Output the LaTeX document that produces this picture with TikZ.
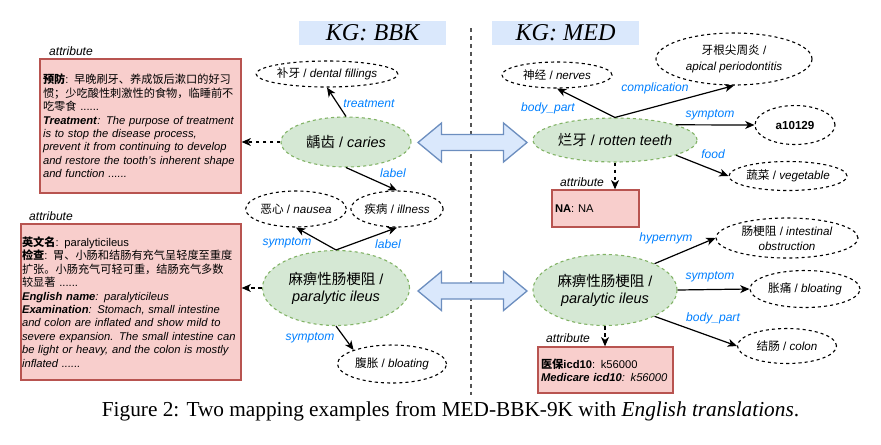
\documentclass[tikz,border=0pt]{standalone}
\usepackage{fontspec}
\usepackage{xcolor}
\usepackage{tikz}
\usetikzlibrary{shapes.geometric,arrows.meta}
\setmainfont{Liberation Sans}
\newfontfamily\cjkfont{Noto Sans CJK SC}
\newfontfamily\capfont{Liberation Serif}
\newcommand\zh[1]{{\cjkfont #1}}
\definecolor{keyfill}{HTML}{D5E8D4}
\definecolor{keyline}{HTML}{82B366}
\definecolor{attrfill}{HTML}{F8CECC}
\definecolor{attrline}{HTML}{B85450}
\definecolor{mapfill}{HTML}{DAE8FC}
\definecolor{mapline}{HTML}{6C8EBF}
\definecolor{relblue}{HTML}{007FFF}
\definecolor{sepgray}{HTML}{555555}

\begin{document}
\begin{tikzpicture}[x=0.016cm, y=-0.016cm,
    ent/.style 2 args={ellipse, draw, dash pattern=on 1.4pt off 1.4pt, line width=0.5pt,
      minimum width=#1*0.016cm, minimum height=#2*0.016cm, inner sep=0pt, align=center,
      font=\fontsize{5.3}{7}\selectfont},
    key/.style 2 args={ent={#1}{#2}, draw=keyline, fill=keyfill, font=\fontsize{6.6}{7.7}\selectfont},
    attr/.style n args={3}{rectangle, draw=attrline, fill=attrfill, line width=0.6pt,
      text width=#1, minimum height=#2, inner xsep=#3, inner ysep=0pt, align=left,
      font=\fontsize{5.1}{6.1}\selectfont},
    title/.style={fill=mapfill, minimum width=147*0.016cm, minimum height=24*0.016cm, inner sep=0pt,
      font=\capfont\itshape\fontsize{11}{12}\selectfont},
    bimap/.style={fill=mapfill, draw=mapline, line width=0.6pt},
    rel/.style={-{Stealth[length=4.2pt, width=3.6pt, inset=1.2pt]}, line width=0.55pt},
    attrrel/.style={rel, dash pattern=on 1.6pt off 1.6pt},
    lbl/.style={font=\fontsize{5.5}{6}\selectfont\itshape, text=relblue, inner sep=0pt},
    note/.style={font=\fontsize{5.5}{6}\selectfont\itshape, inner sep=0pt}]
  \useasboundingbox (0,0) rectangle (881,444);

  \node[title] (bbk) at (372.5,33) {KG: BBK};
  \node[title] (med) at (565.5,33) {KG: MED};
  \draw[sepgray, line width=0.6pt, dash pattern=on 1.8pt off 1.8pt] (471,28) -- (471,395);
  \foreach \y in {142.5,291}
    \draw[bimap, shift={(472.5,\y)}] (-54.5,0) -- (-31,-19.5) -- (-31,-8) -- (31,-8) -- (31,-19.5)
      -- (54.5,0) -- (31,19.5) -- (31,8) -- (-31,8) -- (-31,19.5) -- cycle;

  \node[ent={140}{26}] (fill) at (327,74) {\zh{补牙} / \textit{dental fillings}};
  \node[key={130}{50}] (caries) at (346,142) {\zh{龋齿} / \textit{caries}};
  \node[ent={98}{36}] (nausea) at (296,209) {\zh{恶心} / \textit{nausea}};
  \node[ent={91}{36}] (illness) at (397,209) {\zh{疾病} / \textit{illness}};
  \node[key={147}{75}] (parb) at (336,288) {\zh{麻痹性肠梗阻} /\\\textit{paralytic ileus}};
  \node[ent={109}{38}] (bloatb) at (392,364) {\zh{腹胀} / \textit{bloating}};

  \node[key={164}{44}] (rotten) at (615,140) {\zh{烂牙} / \textit{rotten teeth}};
  \node[ent={110}{26}] (nerves) at (557,75) {\zh{神经} / \textit{nerves}};
  \node[ent={156}{52}] (apical) at (734,59) {\zh{牙根尖周炎} /\\\textit{apical periodontitis}};
  \node[ent={80}{39}] (a10129) at (795,125) {\textbf{a10129}};
  \node[ent={116}{29}] (veg) at (788,176) {\zh{蔬菜} / \textit{vegetable}};
  \node[key={144}{71}] (parm) at (605,290) {\zh{麻痹性肠梗阻} /\\\textit{paralytic ileus}};
  \node[ent={142}{40}] (obstr) at (787,238) {\zh{肠梗阻} / \textit{intestinal}\\\textit{obstruction}};
  \node[ent={110}{37}] (pain) at (805,289) {\zh{胀痛} / \textit{bloating}};
  \node[ent={99}{35}] (colon) at (787,346) {\zh{结肠} / \textit{colon}};

  \node[attr={3.12cm}{2.144cm}{0.048cm}] (box1) at (140.5,126) {%
    \textbf{\zh{预防}}: \zh{早晚刷牙、养成饭后漱口的好习}\\
    \zh{惯；少吃酸性刺激性的食物，临睡前不}\\
    \zh{吃零食} ......\\
    \textbf{\textit{Treatment}}\textit{: The purpose of treatment}\\
    \textit{is to stop the disease process,}\\
    \textit{prevent it from continuing to develop}\\
    \textit{and restore the tooth's inherent shape}\\
    \textit{and function ......}};
  \node[attr={3.488cm}{2.496cm}{0.016cm}] (box2) at (131,302) {%
    \textbf{\zh{英文名}}: paralyticileus\\
    \textbf{\zh{检查}}: \zh{胃、小肠和结肠有充气呈轻度至重度}\\
    \zh{扩张。小肠充气可轻可重，结肠充气多数}\\
    \zh{较显著} ......\\
    \textbf{\textit{English name}}\textit{: paralyticileus}\\
    \textbf{\textit{Examination}}\textit{: Stomach, small intestine}\\
    \textit{and colon are inflated and show mild to}\\
    \textit{severe expansion. The small intestine can}\\
    \textit{be light or heavy, and the colon is mostly}\\
    \textit{inflated ......}};
  \node[attr={1.296cm}{0.592cm}{0.048cm}] (na) at (595.5,208.5) {\textbf{NA}: NA};
  \node[attr={2.064cm}{0.736cm}{0.048cm}] (icd) at (605.5,370) {%
    \textbf{\zh{医保}icd10}: k56000\\
    \textbf{\textit{Medicare icd10}}\textit{: k56000}};

  \foreach \a/\b/\t/\p [count=\n] in {
      caries.north/fill.south/treatment/{369,104},
      caries.south/illness.north/label/{393,173},
      parb.north/nausea.south/symptom/{287,243},
      parb.north/illness.south/label/{388,244},
      parb.south/bloatb.160/symptom/{310,338},
      rotten.north/nerves.south/body\_part/{548,108},
      rotten.north/apical.south/complication/{655,88},
      rotten.14/a10129.west/symptom/{710,115},
      rotten.346/veg.west/food/{713,154},
      parm.28/obstr.west/hypernym/{666,238},
      parm.east/pain.west/symptom/{710,277},
      parm.332/colon.west/body\_part/{713,318}} {
    \draw[rel] (\a) -- (\b);
    \node[lbl] (rl\n) at (\p) {\t};
  }

  \foreach \a/\b in {caries.west/caries.west -| box1.east, parb.west/parb.west -| box2.east,
      rotten.south/rotten.south |- na.north, parm.south/parm.south |- icd.north}
    \draw[attrrel] (\a) -- (\b);
  \foreach \p [count=\n] in {{71,51},{51,216},{582,182},{568,338}}
    \node[note] (at\n) at (\p) {attribute};

  \node[font=\capfont\fontsize{9.7}{12}\selectfont] (cap) at (450.5,411)
    {Figure 2: Two mapping examples from MED-BBK-9K with \textit{English translations}.};
\end{tikzpicture}
\end{document}
